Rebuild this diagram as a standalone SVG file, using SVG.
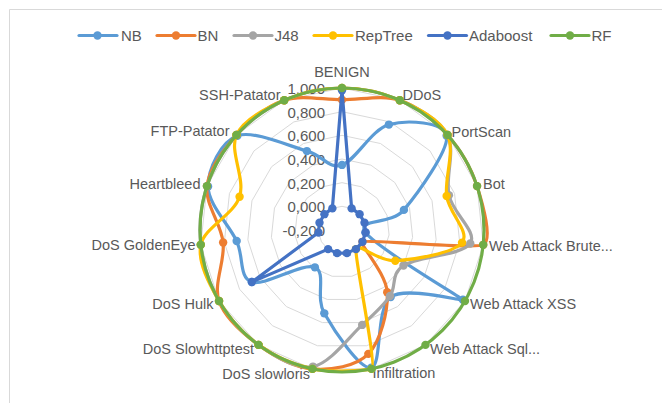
<svg xmlns="http://www.w3.org/2000/svg" xmlns:xlink="http://www.w3.org/1999/xlink" width="662" height="403" viewBox="0 0 662 403">
<style>
.ring{fill:none;stroke:#D9D9D9;stroke-width:1;vector-effect:non-scaling-stroke}
.s{fill:none;stroke-width:3.2;stroke-linejoin:round;stroke-linecap:round}
.t{font-family:"Liberation Sans",Arial,sans-serif;fill:#595959}
.lab{font-size:14.5px}
.tick{font-size:15px;text-anchor:end}
.leg{font-size:15px}
.nb{stroke:#5B9BD5}.nb circle,circle.nb{fill:#5B9BD5;stroke:none}
.bn{stroke:#ED7D31}.bn circle,circle.bn{fill:#ED7D31;stroke:none}
.j48{stroke:#A5A5A5}.j48 circle,circle.j48{fill:#A5A5A5;stroke:none}
.rt{stroke:#FFC000}.rt circle,circle.rt{fill:#FFC000;stroke:none}
.ab{stroke:#4472C4}.ab circle,circle.ab{fill:#4472C4;stroke:none}
.rf{stroke:#70AD47}.rf circle,circle.rf{fill:#70AD47;stroke:none}
g.mk circle{r:4.2px}
</style>
<defs>
<polygon id="ringp" class="ring" points="0,-100 40.67,-91.35 74.31,-66.91 95.11,-30.90 99.45,10.45 86.60,50 58.78,80.90 20.79,97.81 -20.79,97.81 -58.78,80.90 -86.60,50 -99.45,10.45 -95.11,-30.90 -74.31,-66.91 -40.67,-91.35"/>
</defs>
<rect width="662" height="403" fill="#FFFFFF"/>
<path d="M9.5,403 V9.5 H662" fill="none" stroke="#D9D9D9" stroke-width="1"/>

<g id="grid">
<use xlink:href="#ringp" transform="translate(342,230) scale(0.2367)"/>
<use xlink:href="#ringp" transform="translate(342,230) scale(0.4733)"/>
<use xlink:href="#ringp" transform="translate(342,230) scale(0.71)"/>
<use xlink:href="#ringp" transform="translate(342,230) scale(0.9467)"/>
<use xlink:href="#ringp" transform="translate(342,230) scale(1.1833)"/>
<use xlink:href="#ringp" transform="translate(342,230) scale(1.42)"/>
</g>

<g id="ticks" class="t tick">
<text x="325" y="94">1,000</text>
<text x="325" y="117.7">0,800</text>
<text x="325" y="141.3">0,600</text>
<text x="325" y="165">0,400</text>
<text x="325" y="188.7">0,200</text>
<text x="325" y="212.3">0,000</text>
<text x="325" y="236">-0,200</text>
</g>

<g id="categories" class="t lab">
<text x="342" y="76.5" text-anchor="middle">BENIGN</text>
<text x="402.5" y="100">DDoS</text>
<text x="451.5" y="136.5">PortScan</text>
<text x="483" y="189">Bot</text>
<text x="489" y="250.5">Web Attack Brute...</text>
<text x="470" y="309">Web Attack XSS</text>
<text x="430" y="354">Web Attack Sql...</text>
<text x="372.5" y="378">Infiltration</text>
<text x="310" y="379" text-anchor="end">DoS slowloris</text>
<text x="254" y="354" text-anchor="end">DoS Slowhttptest</text>
<text x="213.5" y="309" text-anchor="end">DoS Hulk</text>
<text x="195.5" y="250" text-anchor="end">DoS GoldenEye</text>
<text x="200.5" y="189" text-anchor="end">Heartbleed</text>
<text x="229.5" y="136" text-anchor="end">FTP-Patator</text>
<text x="280.5" y="100" text-anchor="end">SSH-Patator</text>
</g>

<g id="connectors">
<g id="series-nb" class="nb">
<path class="s nb" d="M342,164.92 C355.68,160.50 371.49,129.45 388.93,124.59 C406.37,119.73 444.15,121.55 446.65,135.77 C449.15,149.99 417.42,193.77 403.90,209.89 C390.38,226.01 355.70,217.48 365.54,232.47 C375.38,247.46 461.92,297.82 462.92,299.82 C463.92,301.82 405.96,285.69 390.69,297.01 C375.42,308.33 382.35,365.02 371.28,367.74 C360.21,370.46 333.69,330.07 324.29,313.34 C314.89,296.61 326.95,272.55 314.87,267.34 C302.79,262.13 264.85,286.45 251.82,282.07 C238.79,277.69 243.96,257.00 236.67,241.07 C229.38,225.14 207.96,204.03 208.07,186.48 C208.18,168.93 220.88,141.67 237.35,135.77 C253.82,129.87 289.43,146.23 306.87,151.09 C324.31,155.95 328.32,169.34 342,164.92 Z"/>
<g class="mk">
<circle cx="342" cy="164.92"/><circle cx="388.93" cy="124.59"/><circle cx="446.65" cy="135.77"/><circle cx="403.90" cy="209.89"/><circle cx="365.54" cy="232.47"/><circle cx="462.92" cy="299.82"/><circle cx="390.69" cy="297.01"/><circle cx="371.28" cy="367.74"/><circle cx="324.29" cy="313.34"/><circle cx="314.87" cy="267.34"/><circle cx="251.82" cy="282.07"/><circle cx="236.67" cy="241.07"/><circle cx="208.07" cy="186.48"/><circle cx="237.35" cy="135.77"/><circle cx="306.87" cy="151.09"/>
</g>
</g>
<g id="series-bn" class="bn">
<path class="s bn" d="M342,99.83 C361.25,99.83 382.17,94.42 399.76,100.28 C417.35,106.14 434.65,120.67 447.53,134.98 C460.41,149.29 471.10,167.81 477.05,186.12 C483.00,204.43 492.77,240.19 483.22,244.84 C473.67,249.49 365.50,238.84 362.50,241.84 C359.50,244.84 386.24,273.56 387.21,292.23 C388.18,310.90 380.79,341.07 368.33,353.85 C355.87,366.63 330.78,370.40 312.48,368.90 C294.18,367.40 274.11,356.20 258.53,344.88 C242.95,333.56 224.92,318.07 219.02,301 C213.12,283.93 225.15,261.64 223.14,242.49 C221.13,223.34 204.73,204.04 206.95,186.12 C209.17,168.20 223.59,149.29 236.47,134.98 C249.35,120.67 266.65,106.14 284.24,100.28 C301.83,94.42 322.75,99.83 342,99.83 Z"/>
<g class="mk">
<circle cx="342" cy="99.83"/><circle cx="399.76" cy="100.28"/><circle cx="447.53" cy="134.98"/><circle cx="477.05" cy="186.12"/><circle cx="483.22" cy="244.84"/><circle cx="362.50" cy="241.84"/><circle cx="387.21" cy="292.23"/><circle cx="368.33" cy="353.85"/><circle cx="312.48" cy="368.90"/><circle cx="258.53" cy="344.88"/><circle cx="219.02" cy="301"/><circle cx="223.14" cy="242.49"/><circle cx="206.95" cy="186.12"/><circle cx="236.47" cy="134.98"/><circle cx="284.24" cy="100.28"/>
</g>
</g>
<g id="series-j48" class="j48">
<path class="s j48" d="M342,88 C361.25,88 382.17,92.45 399.76,100.28 C417.35,108.11 439.34,119.15 447.53,134.98 C455.72,150.81 445.13,177.18 448.92,195.26 C452.71,213.34 477.84,231.77 470.27,243.48 C462.70,255.19 416.87,256.74 403.49,265.5 C390.11,274.26 396.88,286.16 389.99,296.06 C383.10,305.96 375.01,313.16 362.17,324.91 C349.33,336.66 330.24,363.25 312.97,366.58 C295.70,369.91 274.19,355.81 258.53,344.88 C242.87,333.95 228.65,317.67 219.02,301 C209.39,284.33 202.79,263.99 200.78,244.84 C198.77,225.69 201.00,204.43 206.95,186.12 C212.90,167.81 223.59,149.29 236.47,134.98 C249.35,120.67 266.65,108.11 284.24,100.28 C301.83,92.45 322.75,88 342,88 Z"/>
<g class="mk">
<circle cx="342" cy="88"/><circle cx="399.76" cy="100.28"/><circle cx="447.53" cy="134.98"/><circle cx="448.92" cy="195.26"/><circle cx="470.27" cy="243.48"/><circle cx="403.49" cy="265.5"/><circle cx="389.99" cy="296.06"/><circle cx="362.17" cy="324.91"/><circle cx="312.97" cy="366.58"/><circle cx="258.53" cy="344.88"/><circle cx="219.02" cy="301"/><circle cx="200.78" cy="244.84"/><circle cx="206.95" cy="186.12"/><circle cx="236.47" cy="134.98"/><circle cx="284.24" cy="100.28"/>
</g>
</g>
<g id="series-reptree" class="rt">
<path class="s rt" d="M342,88 C361.25,88 382.17,92.45 399.76,100.28 C417.35,108.11 439.71,119.03 447.53,134.98 C455.35,150.93 444.24,178.05 446.66,195.99 C449.08,213.93 470.60,231.82 462.04,242.62 C453.48,253.42 412.98,259.68 395.29,260.77 C377.60,261.86 357.41,241.15 355.91,249.15 C354.41,257.15 377.52,367.60 371.52,368.90 C365.52,370.20 331.31,372.90 312.48,368.90 C293.65,364.90 274.11,356.20 258.53,344.88 C242.95,333.56 228.65,317.67 219.02,301 C209.39,284.33 197.35,262.22 200.78,244.84 C204.21,227.46 233.64,215.03 239.59,196.72 C245.54,178.41 229.03,151.05 236.47,134.98 C243.91,118.91 266.65,108.11 284.24,100.28 C301.83,92.45 322.75,88 342,88 Z"/>
<g class="mk">
<circle cx="342" cy="88"/><circle cx="399.76" cy="100.28"/><circle cx="447.53" cy="134.98"/><circle cx="446.66" cy="195.99"/><circle cx="462.04" cy="242.62"/><circle cx="395.29" cy="260.77"/><circle cx="355.91" cy="249.15"/><circle cx="371.52" cy="368.90"/><circle cx="312.48" cy="368.90"/><circle cx="258.53" cy="344.88"/><circle cx="219.02" cy="301"/><circle cx="200.78" cy="244.84"/><circle cx="239.59" cy="196.72"/><circle cx="236.47" cy="134.98"/><circle cx="284.24" cy="100.28"/>
</g>
</g>
<g id="series-adaboost" class="ab">
<polygon class="s ab" points="342,90.37 351.63,208.38 359.59,214.16 364.51,222.69 365.54,232.47 362.50,241.84 355.91,249.15 346.92,253.15 337.08,253.15 328.09,249.15 251.82,282.07 318.46,232.47 319.49,222.69 324.41,214.16 332.37,208.38"/>
<g class="mk">
<circle cx="342" cy="90.37"/><circle cx="351.63" cy="208.38"/><circle cx="359.59" cy="214.16"/><circle cx="364.51" cy="222.69"/><circle cx="365.54" cy="232.47"/><circle cx="362.50" cy="241.84"/><circle cx="355.91" cy="249.15"/><circle cx="346.92" cy="253.15"/><circle cx="337.08" cy="253.15"/><circle cx="328.09" cy="249.15"/><circle cx="251.82" cy="282.07"/><circle cx="318.46" cy="232.47"/><circle cx="319.49" cy="222.69"/><circle cx="324.41" cy="214.16"/><circle cx="332.37" cy="208.38"/>
</g>
</g>
<g id="series-rf" class="rf">
<circle class="s rf" cx="342" cy="230" r="142" style="fill:none;stroke:#70AD47"/>
<g class="mk">
<circle cx="342" cy="88"/><circle cx="399.76" cy="100.28"/><circle cx="447.53" cy="134.98"/><circle cx="477.05" cy="186.12"/><circle cx="483.22" cy="244.84"/><circle cx="464.98" cy="301"/><circle cx="425.47" cy="344.88"/><circle cx="371.52" cy="368.90"/><circle cx="312.48" cy="368.90"/><circle cx="258.53" cy="344.88"/><circle cx="219.02" cy="301"/><circle cx="200.78" cy="244.84"/><circle cx="206.95" cy="186.12"/><circle cx="236.47" cy="134.98"/><circle cx="284.24" cy="100.28"/>
</g>
</g>
</g>

<g id="legend">
<g id="leg-nb"><line class="s nb" x1="79" y1="35.5" x2="117" y2="35.5"/><circle class="nb" cx="97.5" cy="35.5" r="4.2"/><text class="t leg" x="121" y="41">NB</text></g>
<g id="leg-bn"><line class="s bn" x1="157" y1="35.5" x2="195" y2="35.5"/><circle class="bn" cx="176" cy="35.5" r="4.2"/><text class="t leg" x="197.5" y="41">BN</text></g>
<g id="leg-j48"><line class="s j48" x1="234" y1="35.5" x2="272" y2="35.5"/><circle class="j48" cx="253" cy="35.5" r="4.2"/><text class="t leg" x="274.5" y="41">J48</text></g>
<g id="leg-rt"><line class="s rt" x1="314" y1="35.5" x2="352" y2="35.5"/><circle class="rt" cx="333" cy="35.5" r="4.2"/><text class="t leg" x="355" y="41">RepTree</text></g>
<g id="leg-ab"><line class="s ab" x1="428.5" y1="35.5" x2="466.5" y2="35.5"/><circle class="ab" cx="447.5" cy="35.5" r="4.2"/><text class="t leg" x="469" y="41">Adaboost</text></g>
<g id="leg-rf"><line class="s rf" x1="551" y1="35.5" x2="589" y2="35.5"/><circle class="rf" cx="570" cy="35.5" r="4.2"/><text class="t leg" x="591.5" y="41">RF</text></g>
</g>
</svg>
